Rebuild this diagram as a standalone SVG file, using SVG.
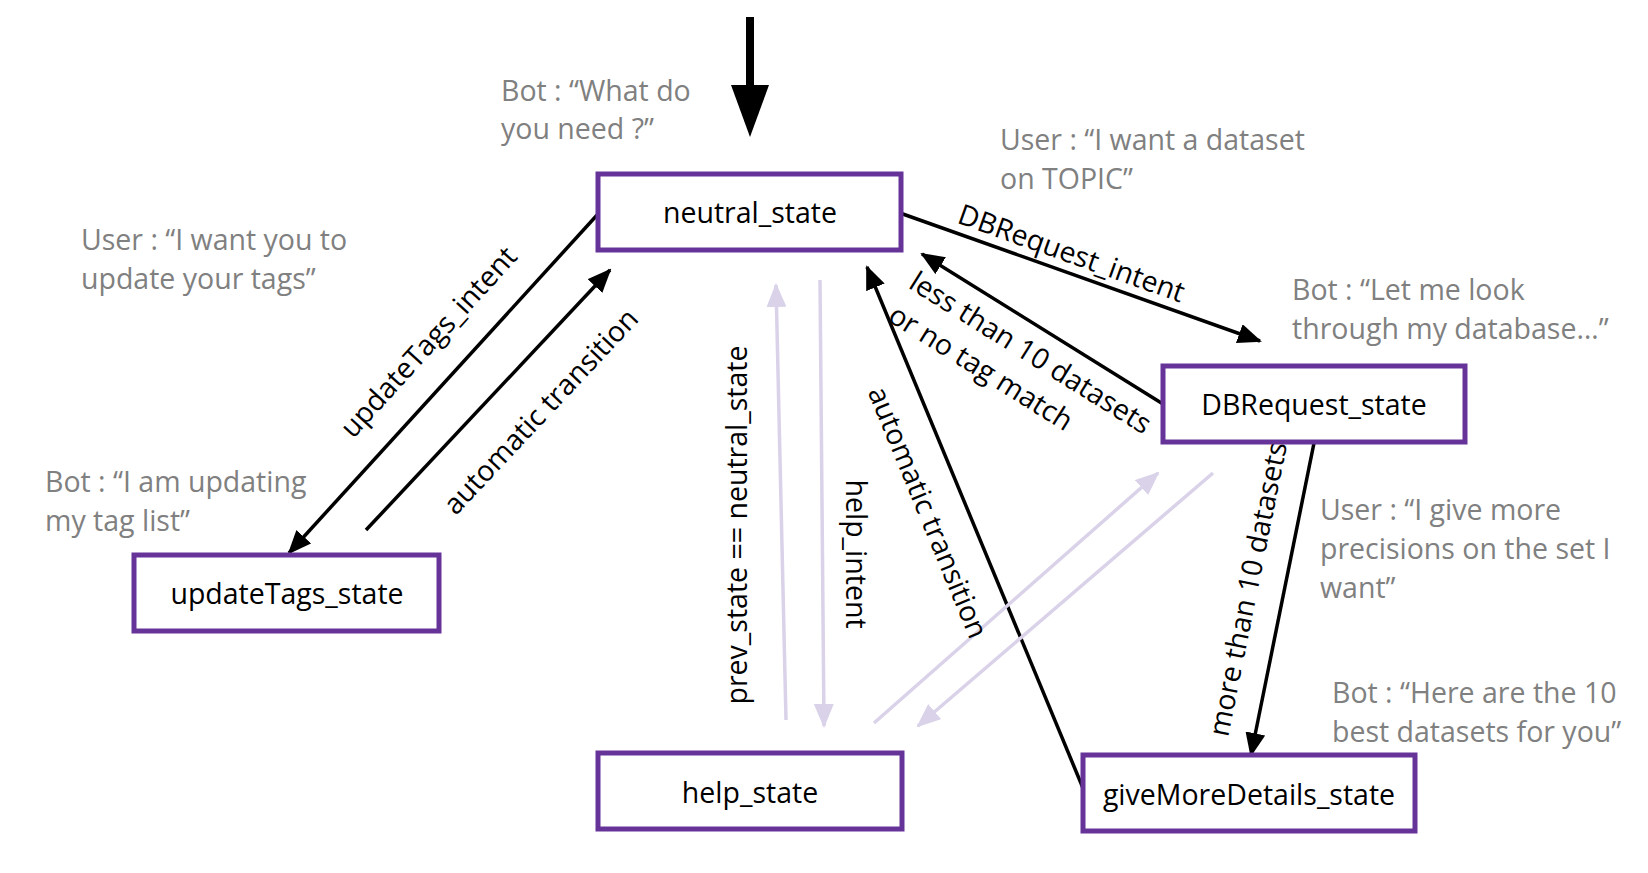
<svg xmlns="http://www.w3.org/2000/svg" width="1648" height="873" viewBox="0 0 1648 873">
<style>
.box{fill:#fff;stroke:#663399;stroke-width:5}
.nt{font-family:"Open Sans","Noto Sans",sans-serif;font-size:28.5px;fill:#000;text-anchor:middle}
.lbl{font-family:"Open Sans","Noto Sans",sans-serif;font-size:28.5px;fill:#000}
.note{font-family:"Open Sans","Noto Sans",sans-serif;font-size:28.5px;fill:#808080}
.blk{stroke:#000;stroke-width:3.5;fill:none}
.lav{stroke:#d9d2e9;stroke-width:3.5;fill:none}
</style>
<defs>
<marker id="ah" viewBox="0 0 24 20" markerUnits="userSpaceOnUse" markerWidth="24" markerHeight="20" refX="22" refY="10" orient="auto"><path d="M0,0 L24,10 L0,20 z" fill="#000"/></marker>
<marker id="ahl" viewBox="0 0 24 20" markerUnits="userSpaceOnUse" markerWidth="24" markerHeight="20" refX="22" refY="10" orient="auto"><path d="M0,0 L24,10 L0,20 z" fill="#d9d2e9"/></marker>
<marker id="big" viewBox="0 0 52 38" markerUnits="userSpaceOnUse" markerWidth="52" markerHeight="38" refX="2" refY="19" orient="auto"><path d="M0,0 L52,19 L0,38 z" fill="#000"/></marker>
</defs>

<g id="connectors">
<line x1="750" y1="17" x2="750" y2="87" stroke="#000" stroke-width="8" marker-end="url(#big)"/>
<line class="blk" x1="900" y1="213" x2="1260" y2="341" marker-end="url(#ah)"/>
<line class="blk" x1="1163" y1="404" x2="922" y2="254" marker-end="url(#ah)"/>
<line class="blk" x1="598" y1="214" x2="289" y2="553" marker-end="url(#ah)"/>
<line class="blk" x1="366" y1="530" x2="610" y2="270" marker-end="url(#ah)"/>
<line class="blk" x1="1314" y1="443" x2="1251" y2="755" marker-end="url(#ah)"/>
<line class="blk" x1="1085" y1="793" x2="867" y2="267" marker-end="url(#ah)"/>
<line class="lav" x1="786" y1="720" x2="776" y2="285" marker-end="url(#ahl)"/>
<line class="lav" x1="820" y1="280" x2="824" y2="726" marker-end="url(#ahl)"/>
<line class="lav" x1="874" y1="723" x2="1158" y2="473" marker-end="url(#ahl)"/>
<line class="lav" x1="1213" y1="473" x2="918" y2="726" marker-end="url(#ahl)"/>

<text class="lbl" text-anchor="middle" transform="translate(1062,271) rotate(19.6)" x="3" y="-10">DBRequest_intent</text>
<g class="lbl" transform="translate(922,254) rotate(32)">
<text x="5" y="36">less than 10 datasets</text>
<text x="5" y="75">or no tag match</text>
</g>
<text class="lbl" text-anchor="middle" transform="translate(289,553) rotate(-47.7)" x="250" y="-29">updateTags_intent</text>
<text class="lbl" text-anchor="middle" transform="translate(366,530) rotate(-46.8)" x="206" y="56">automatic transition</text>
<text class="lbl" text-anchor="middle" transform="translate(747,525) rotate(-90)">prev_state == neutral_state</text>
<text class="lbl" text-anchor="middle" transform="translate(846,554) rotate(90)">help_intent</text>
<text class="lbl" text-anchor="middle" transform="translate(867,267) rotate(67.6)" x="250" y="47">automatic transition</text>
<text class="lbl" text-anchor="middle" transform="translate(1251,755) rotate(-78.6)" x="162" y="-26">more than 10 datasets</text>
</g>

<g id="neutral_state">
<rect class="box" x="598" y="174" width="303" height="76"/>
<text class="nt" x="750" y="223">neutral_state</text>
</g>
<g id="updateTags_state">
<rect class="box" x="134" y="555" width="305" height="76"/>
<text class="nt" x="287" y="604">updateTags_state</text>
</g>
<g id="DBRequest_state">
<rect class="box" x="1163" y="366" width="302" height="76"/>
<text class="nt" x="1314" y="415">DBRequest_state</text>
</g>
<g id="help_state">
<rect class="box" x="598" y="753" width="304" height="76"/>
<text class="nt" x="750" y="803">help_state</text>
</g>
<g id="giveMoreDetails_state">
<rect class="box" x="1083" y="755" width="332" height="76"/>
<text class="nt" x="1249" y="805">giveMoreDetails_state</text>
</g>

<g id="notes">
<text class="note" x="501" y="101">Bot : “What do</text>
<text class="note" x="501" y="139">you need ?”</text>
<text class="note" x="1000" y="150">User : “I want a dataset</text>
<text class="note" x="1000" y="189">on TOPIC”</text>
<text class="note" x="1292" y="300">Bot : “Let me look</text>
<text class="note" x="1292" y="339">through my database…”</text>
<text class="note" x="81" y="250">User : “I want you to</text>
<text class="note" x="81" y="289">update your tags”</text>
<text class="note" x="45" y="492">Bot : “I am updating</text>
<text class="note" x="45" y="531">my tag list”</text>
<text class="note" x="1320" y="520">User : “I give more</text>
<text class="note" x="1320" y="559">precisions on the set I</text>
<text class="note" x="1320" y="598">want”</text>
<text class="note" x="1332" y="703">Bot : “Here are the 10</text>
<text class="note" x="1332" y="742">best datasets for you”</text>
</g>
</svg>
